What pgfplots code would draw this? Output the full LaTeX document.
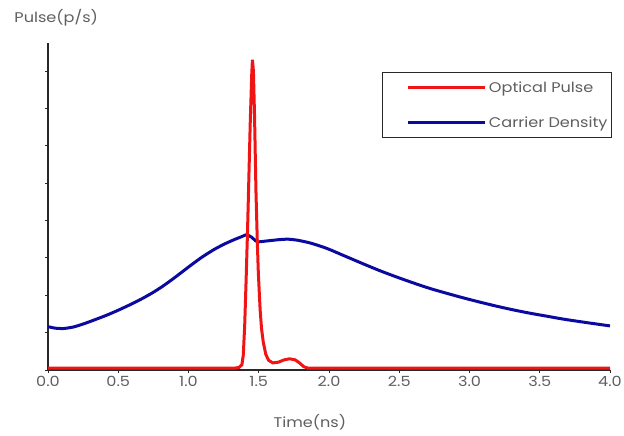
\documentclass[border=0pt]{standalone}
\usepackage{fontspec}
\setmainfont[FakeStretch=1.15]{Poppins}
\usepackage{pgfplots}
\pgfplotsset{compat=1.18}
\definecolor{pulsered}{RGB}{240,20,20}
\definecolor{carrierblue}{RGB}{10,10,160}
\definecolor{labelgray}{RGB}{95,95,95}
\definecolor{axisgray}{RGB}{40,40,40}

\begin{document}
\begin{tikzpicture}
\path[use as bounding box] (-48pt,-66pt) rectangle (576pt,370pt);
\begin{axis}[
    scale only axis,
    width=562pt, height=327pt,
    xmin=0, xmax=4, ymin=0, ymax=8.75,
    axis lines*=left,
    axis line style={axisgray, line width=1.2pt},
    clip=false,
    xtick={0,0.5,...,4},
    ytick={0,1,...,8},
    yticklabels={},
    tick align=outside,
    major tick length=3pt,
    tick style={axisgray, line width=0.8pt},
    xticklabel style={/pgf/number format/fixed, /pgf/number format/fixed zerofill,
        /pgf/number format/precision=1},
    /pgf/number format/assume math mode=true,
    ticklabel style={font=\fontsize{14}{16}\selectfont, text=labelgray},
    xlabel={Time(ns)},
    xlabel style={at={(axis description cs:0.466,-0.159)}, anchor=center,
        font=\fontsize{14}{16}\selectfont, text=labelgray},
    ylabel={Pulse(p/s)},
    ylabel style={rotate=-90, at={(axis description cs:-0.066,1.0765)}, anchor=west,
        font=\fontsize{14}{16}\selectfont, text=labelgray},
    legend style={at={(axis description cs:1.0036,0.911)}, anchor=north east,
        draw=axisgray, line width=1pt, inner xsep=2pt, inner ysep=7pt,
        row sep=19pt, font=\fontsize{14}{16}\selectfont, text=labelgray,
        nodes={inner sep=2pt}},
    legend cell align=left,
    legend image code/.code={\path[draw=none] (0pt,0pt) -- (102pt,0pt); \draw[#1] (23pt,0pt) -- (100pt,0pt);},
]
\addlegendimage{pulsered, line width=3pt}
\addlegendentry{Optical Pulse}
\addlegendimage{carrierblue, line width=3pt}
\addlegendentry{Carrier Density}

\addplot[carrierblue, line width=3pt, smooth, tension=0.4, forget plot] coordinates {
(0,1.16)(0.05,1.12)(0.11,1.11)(0.18,1.15)(0.25,1.23)(0.33,1.34)(0.42,1.47)
(0.50,1.60)(0.58,1.74)(0.67,1.91)(0.75,2.08)(0.82,2.25)(0.89,2.44)(0.96,2.64)
(1.03,2.84)(1.10,3.03)(1.18,3.22)(1.25,3.36)(1.32,3.48)(1.38,3.57)(1.414,3.62)
(1.45,3.55)(1.48,3.45)(1.50,3.43)(1.55,3.45)(1.60,3.47)(1.65,3.49)(1.71,3.50)
(1.78,3.47)(1.865,3.40)(1.95,3.30)(2.007,3.22)(2.10,3.07)(2.244,2.84)(2.36,2.66)
(2.48,2.49)(2.60,2.33)(2.72,2.18)(2.84,2.05)(2.956,1.93)(3.07,1.82)(3.19,1.71)
(3.31,1.61)(3.43,1.52)(3.55,1.44)(3.67,1.36)(3.83,1.27)(4.0,1.18)
};

\addplot[pulsered, line width=3pt, forget plot] coordinates {
(0,0.05)(1.33,0.05)(1.36,0.07)(1.38,0.14)(1.39,0.4)(1.40,1.2)(1.41,2.4)(1.42,3.7)
(1.43,5.2)(1.44,6.7)(1.45,7.9)(1.455,8.3)(1.462,8.0)(1.47,6.8)(1.48,4.8)
(1.49,3.4)(1.497,2.6)(1.51,1.6)(1.52,1.1)(1.532,0.75)(1.55,0.42)(1.57,0.26)
(1.60,0.19)(1.64,0.21)(1.68,0.27)(1.72,0.30)(1.76,0.27)(1.79,0.19)(1.82,0.09)
(1.85,0.05)(4,0.05)
};
\end{axis}
\end{tikzpicture}
\end{document}
